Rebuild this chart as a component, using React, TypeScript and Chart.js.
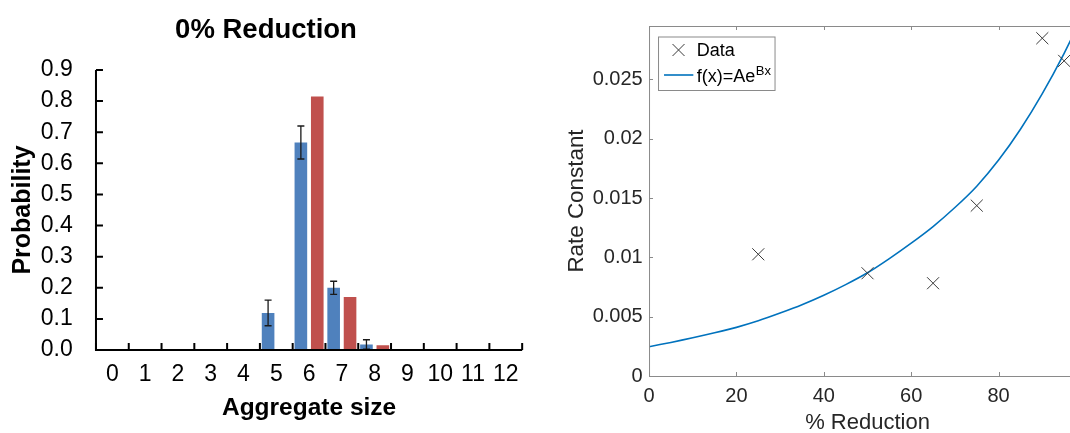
import React, { useEffect, useRef } from "react";
import { Chart, registerables } from "chart.js";

Chart.register(...registerables);

// ---------- Left chart data ----------
const aggregateSizes = ["0", "1", "2", "3", "4", "5", "6", "7", "8", "9", "10", "11", "12"];
const experimentProb = [0, 0, 0, 0, 0, 0.119, 0.667, 0.2, 0.018, 0, 0, 0, 0];
const experimentErr = [0, 0, 0, 0, 0, 0.041, 0.053, 0.021, 0.015, 0, 0, 0, 0];
const modelProb = [0, 0, 0, 0, 0, 0, 0.815, 0.17, 0.015, 0, 0, 0, 0];

// ---------- Right chart data ----------
const reductionPct = [25, 50, 65, 75, 90, 95];
const rateConstant = [0.01026, 0.00866, 0.00782, 0.01436, 0.02847, 0.02656];
const fitX = [0, 5, 10, 15, 20, 25, 30, 35, 40, 45, 50, 55, 60, 65, 70, 75, 80, 85, 90, 95, 100];
const fitY = [
  0.00247, 0.00283, 0.00322, 0.00364, 0.0041, 0.00465, 0.0053, 0.006, 0.0068, 0.0077, 0.0087,
  0.0099, 0.0112, 0.0126, 0.0142, 0.016, 0.0182, 0.0208, 0.0238, 0.0272, 0.031,
];
const rateTicks = [0, 0.005, 0.01, 0.015, 0.02, 0.025];
const reductionTicks = [0, 20, 40, 60, 80];

const FONT = "'Liberation Sans', Arial, Helvetica, sans-serif";

const leftAxesPlugin = {
  id: "leftAxes",
  afterDatasetsDraw(chart: any) {
    const { ctx, chartArea } = chart;
    const xs = chart.scales.x;
    const ys = chart.scales.y;
    // error bars
    const meta = chart.getDatasetMeta(0);
    ctx.save();
    ctx.strokeStyle = "#1a1a1a";
    ctx.lineWidth = 1.3;
    experimentErr.forEach((e, i) => {
      if (!e) return;
      const el = meta.data[i];
      const v = experimentProb[i];
      const x = el.x;
      const yt = ys.getPixelForValue(v + e);
      const yb = ys.getPixelForValue(Math.max(v - e, 0));
      ctx.beginPath();
      ctx.moveTo(x, yt);
      ctx.lineTo(x, yb);
      ctx.moveTo(x - 3.5, yt);
      ctx.lineTo(x + 3.5, yt);
      ctx.moveTo(x - 3.5, yb);
      ctx.lineTo(x + 3.5, yb);
      ctx.stroke();
    });
    // axes lines
    ctx.strokeStyle = "#000";
    ctx.lineWidth = 2;
    ctx.beginPath();
    ctx.moveTo(chartArea.left, chartArea.top);
    ctx.lineTo(chartArea.left, chartArea.bottom);
    ctx.lineTo(chartArea.right, chartArea.bottom);
    ctx.stroke();
    // inward ticks
    ctx.beginPath();
    ys.ticks.forEach((t: any) => {
      const y = ys.getPixelForValue(t.value);
      ctx.moveTo(chartArea.left, y);
      ctx.lineTo(chartArea.left + 7, y);
    });
    for (let i = 0; i <= aggregateSizes.length; i++) {
      const x = xs.getPixelForValue(i - 0.5);
      ctx.moveTo(x, chartArea.bottom);
      ctx.lineTo(x, chartArea.bottom - 7);
    }
    ctx.stroke();
    ctx.restore();
  },
};

const rightAxesPlugin = {
  id: "rightAxes",
  afterDraw(chart: any) {
    const { ctx, chartArea } = chart;
    const xs = chart.scales.x;
    const ys = chart.scales.y;
    const { left, top, right, bottom } = chartArea;
    ctx.save();
    ctx.strokeStyle = "#8a8a8a";
    ctx.lineWidth = 1;
    ctx.strokeRect(left + 0.5, top + 0.5, right - left, bottom - top);
    ctx.beginPath();
    reductionTicks.forEach((t) => {
      const x = Math.round(xs.getPixelForValue(t)) + 0.5;
      ctx.moveTo(x, bottom);
      ctx.lineTo(x, bottom - 4);
      ctx.moveTo(x, top);
      ctx.lineTo(x, top + 4);
    });
    rateTicks.forEach((t) => {
      const y = Math.round(ys.getPixelForValue(t)) + 0.5;
      ctx.moveTo(left, y);
      ctx.lineTo(left + 4, y);
      ctx.moveTo(right, y);
      ctx.lineTo(right - 4, y);
    });
    ctx.stroke();

    // legend
    const bx = left + 9;
    const by = top + 10.5;
    ctx.fillStyle = "#fff";
    ctx.fillRect(bx, by, 116.5, 53.5);
    ctx.strokeStyle = "#8a8a8a";
    ctx.strokeRect(bx + 0.5, by + 0.5, 116.5, 53.5);
    // marker
    const mx = left + 29.5;
    const my = top + 24;
    ctx.strokeStyle = "#3a3a3a";
    ctx.lineWidth = 1;
    ctx.beginPath();
    ctx.moveTo(mx - 6, my - 6);
    ctx.lineTo(mx + 6, my + 6);
    ctx.moveTo(mx - 6, my + 6);
    ctx.lineTo(mx + 6, my - 6);
    ctx.stroke();
    ctx.fillStyle = "#000";
    ctx.font = `18px ${FONT}`;
    ctx.textBaseline = "middle";
    ctx.textAlign = "left";
    ctx.fillText("Data", left + 47.7, my + 1);
    // line sample
    const ly = top + 49;
    ctx.strokeStyle = "#0072BD";
    ctx.lineWidth = 1.6;
    ctx.beginPath();
    ctx.moveTo(left + 15, ly);
    ctx.lineTo(left + 44.3, ly);
    ctx.stroke();
    const main = "f(x)=Ae";
    ctx.fillText(main, left + 47.7, ly + 2);
    const w = ctx.measureText(main).width;
    ctx.font = `13px ${FONT}`;
    ctx.fillText("Bx", left + 47.7 + w + 0.5, ly - 4);
    ctx.restore();
  },
};

export default function App() {
  const leftRef = useRef<HTMLCanvasElement>(null);
  const rightRef = useRef<HTMLCanvasElement>(null);

  useEffect(() => {
    const left = new Chart(leftRef.current as HTMLCanvasElement, {
      type: "bar",
      data: {
        labels: aggregateSizes,
        datasets: [
          {
            label: "Experiment",
            data: experimentProb,
            backgroundColor: "#4F81BD",
            borderWidth: 0,
            barPercentage: 0.77,
            categoryPercentage: 1,
          },
          {
            label: "Model",
            data: modelProb,
            backgroundColor: "#C0504D",
            borderWidth: 0,
            barPercentage: 0.77,
            categoryPercentage: 1,
          },
        ],
      },
      options: {
        responsive: false,
        animation: false,
        layout: { padding: { left: 8, right: 6, top: 0, bottom: 10.3 } },
        plugins: {
          legend: { display: false },
          tooltip: { enabled: false },
          title: {
            display: true,
            text: "0% Reduction",
            color: "#000",
            font: { family: FONT, size: 27.5, weight: "bold" },
            padding: { top: 14, bottom: 23 },
          },
        },
        scales: {
          x: {
            offset: true,
            grid: { display: false, drawTicks: false },
            border: { display: false },
            ticks: {
              color: "#000",
              font: { family: FONT, size: 23 },
              padding: 11.2,
              maxRotation: 0,
              autoSkip: false,
            },
            title: {
              display: true,
              text: "Aggregate size",
              color: "#000",
              font: { family: FONT, size: 24.5, weight: "bold" },
              padding: { top: -6.7, bottom: 0 },
            },
          },
          y: {
            min: 0,
            max: 0.9,
            grid: { display: false, drawTicks: false },
            border: { display: false },
            ticks: {
              stepSize: 0.1,
              autoSkip: false,
              color: "#000",
              font: { family: FONT, size: 23 },
              padding: 23.3,
              callback: (v: any) => Number(v).toFixed(1),
            },
            title: {
              display: true,
              text: "Probability",
              color: "#000",
              font: { family: FONT, size: 25, weight: "bold" },
              padding: { top: 0, bottom: -20.6 },
            },
          },
        },
      },
      plugins: [leftAxesPlugin],
    } as any);

    const right = new Chart(rightRef.current as HTMLCanvasElement, {
      type: "scatter",
      data: {
        datasets: [
          {
            label: "f(x)=Ae^Bx",
            data: fitX.map((x, i) => ({ x, y: fitY[i] })),
            showLine: true,
            pointRadius: 0,
            borderColor: "#0072BD",
            borderWidth: 1.6,
            tension: 0.3,
            order: 2,
          },
          {
            label: "Data",
            data: reductionPct.map((x, i) => ({ x, y: rateConstant[i] })),
            showLine: false,
            pointStyle: "crossRot",
            pointRadius: 8.5,
            borderColor: "#3a3a3a",
            backgroundColor: "#3a3a3a",
            borderWidth: 1,
            order: 1,
          },
        ],
      },
      options: {
        responsive: false,
        animation: false,
        layout: { padding: { left: 33.6, right: 24, top: 26, bottom: 0 } },
        plugins: { legend: { display: false }, tooltip: { enabled: false } },
        scales: {
          x: {
            type: "linear",
            min: 0,
            max: 100,
            grid: { display: false, drawTicks: false },
            border: { display: false },
            afterBuildTicks: (s: any) => {
              s.ticks = reductionTicks.map((v) => ({ value: v }));
            },
            ticks: {
              color: "#262626",
              font: { family: FONT, size: 20 },
              padding: 8.7,
              maxRotation: 0,
            },
            title: {
              display: true,
              text: "% Reduction",
              color: "#262626",
              font: { family: FONT, size: 22 },
              padding: { top: -7.3, bottom: 3.5 },
            },
          },
          y: {
            min: 0,
            max: 0.0295,
            grid: { display: false, drawTicks: false },
            border: { display: false },
            afterBuildTicks: (s: any) => {
              s.ticks = rateTicks.map((v) => ({ value: v }));
            },
            ticks: {
              color: "#262626",
              font: { family: FONT, size: 20 },
              padding: 6.3,
              callback: (v: any) => String(Number(Number(v).toFixed(4))),
            },
            title: {
              display: true,
              text: "Rate Constant",
              color: "#262626",
              font: { family: FONT, size: 22.4 },
              padding: { top: 0, bottom: -4.1 },
            },
          },
        },
      },
      plugins: [rightAxesPlugin],
    } as any);

    return () => {
      left.destroy();
      right.destroy();
    };
  }, []);

  return (
    <div
      style={{
        position: "absolute",
        left: 0,
        top: 0,
        width: 1070,
        height: 433,
        overflow: "hidden",
        background: "#fff",
      }}
    >
      <canvas
        ref={leftRef}
        width={530}
        height={433}
        style={{ position: "absolute", left: 0, top: 0, width: 530, height: 433 }}
      />
      <canvas
        ref={rightRef}
        width={580}
        height={440}
        style={{ position: "absolute", left: 530, top: 0, width: 580, height: 440 }}
      />
    </div>
  );
}
